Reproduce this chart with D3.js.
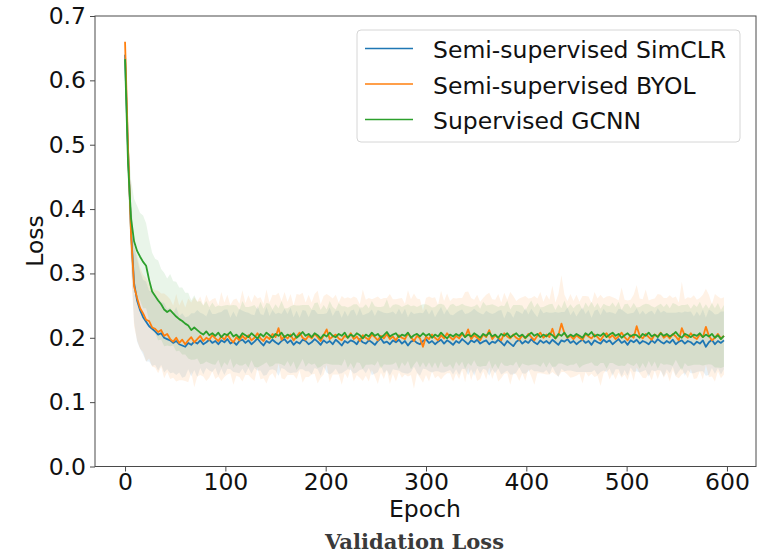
<!DOCTYPE html>
<html><head><meta charset="utf-8">
<script src="https://cdn.jsdelivr.net/npm/d3@7"></script>
<style>body{margin:0;background:#fff}svg{display:block}</style>
</head><body>
<svg id="chart" width="759" height="554"></svg>
<script>
// Epochs sampled every 3 epochs (0 .. 597)
const epochs = d3.range(0, 600, 3);

const simclr = [
.640,.490,.365,.285,.258,.243,.232,.225,.218,.214,
.210,.205,.207,.200,.198,.196,.192,.195,.190,.188,
.186,.192,.189,.194,.191,.196,.190,.193,.197,.192,
.195,.190,.196,.193,.198,.191,.194,.189,.195,.197,
.192,.196,.190,.194,.199,.193,.188,.195,.192,.197,
.193,.190,.195,.198,.192,.196,.189,.194,.191,.197,
.195,.190,.193,.198,.194,.189,.196,.192,.195,.190,
.197,.193,.188,.195,.192,.196,.194,.190,.198,.193,
.191,.196,.193,.189,.195,.199,.192,.194,.190,.196,
.193,.197,.191,.195,.188,.194,.196,.192,.190,.195,
.198,.192,.195,.190,.194,.197,.191,.196,.193,.189,
.195,.192,.198,.194,.190,.196,.193,.197,.191,.194,
.196,.190,.194,.192,.197,.193,.188,.195,.191,.187,
.194,.197,.191,.195,.192,.198,.193,.190,.196,.192,
.195,.191,.197,.193,.189,.196,.194,.198,.192,.195,
.190,.194,.197,.192,.195,.189,.196,.193,.191,.197,
.193,.196,.190,.194,.198,.192,.195,.189,.196,.193,
.197,.191,.195,.193,.190,.196,.192,.198,.194,.191,
.195,.192,.197,.190,.194,.196,.191,.195,.193,.189,
.194,.191,.196,.186,.193,.197,.190,.195,.192,.196];

const byol = [
.660,.495,.360,.280,.262,.246,.238,.228,.226,.216,
.214,.209,.212,.203,.206,.198,.194,.200,.192,.197,
.190,.196,.201,.193,.198,.203,.195,.200,.197,.204,
.199,.195,.202,.197,.205,.198,.193,.201,.196,.203,
.198,.204,.196,.200,.207,.199,.195,.202,.198,.206,
.201,.215,.197,.203,.199,.205,.196,.202,.208,.200,
.197,.203,.199,.206,.201,.195,.204,.213,.198,.202,
.205,.199,.196,.203,.200,.207,.198,.202,.195,.204,
.200,.197,.205,.201,.196,.203,.199,.206,.198,.202,
.196,.204,.200,.198,.207,.201,.195,.203,.199,.186,
.202,.198,.205,.200,.196,.204,.199,.207,.201,.197,
.203,.199,.206,.201,.213,.198,.204,.200,.196,.205,
.201,.212,.198,.204,.200,.196,.207,.202,.199,.205,
.200,.197,.204,.199,.206,.201,.196,.203,.208,.200,
.205,.201,.214,.199,.204,.222,.207,.200,.203,.198,
.204,.200,.197,.206,.202,.199,.205,.201,.196,.203,
.207,.200,.204,.198,.202,.208,.201,.196,.204,.200,
.218,.203,.199,.206,.201,.197,.205,.202,.208,.200,
.204,.199,.206,.202,.196,.215,.203,.200,.207,.201,
.198,.205,.201,.217,.203,.196,.200,.206,.199,.203];

const gcnn = [
.633,.470,.385,.350,.335,.326,.318,.312,.290,.272,
.265,.258,.252,.244,.240,.243,.238,.233,.229,.226,
.222,.219,.212,.216,.212,.208,.205,.210,.204,.207,
.203,.208,.201,.206,.204,.209,.202,.205,.200,.207,
.204,.201,.207,.203,.199,.206,.202,.208,.204,.200,
.206,.203,.208,.201,.205,.202,.207,.200,.204,.209,
.203,.206,.201,.207,.204,.199,.205,.202,.208,.203,
.201,.206,.203,.208,.200,.205,.202,.207,.204,.199,
.205,.202,.208,.203,.206,.200,.204,.209,.202,.205,
.207,.201,.205,.203,.208,.200,.204,.206,.202,.207,
.203,.206,.200,.205,.202,.208,.203,.199,.205,.202,
.206,.203,.208,.201,.205,.202,.207,.204,.200,.206,
.203,.208,.202,.205,.200,.206,.203,.207,.201,.204,
.207,.202,.205,.200,.204,.208,.203,.206,.201,.205,
.202,.207,.204,.199,.206,.203,.208,.201,.205,.202,
.206,.203,.200,.207,.204,.209,.202,.205,.203,.207,
.201,.205,.208,.203,.206,.200,.204,.207,.202,.205,
.204,.200,.206,.203,.208,.202,.205,.201,.207,.203,
.206,.202,.205,.209,.203,.200,.206,.204,.201,.205,
.203,.207,.201,.205,.202,.206,.200,.204,.198,.203];

// standard deviation bands
const simclrStd = [
.005,.030,.050,.060,.064,.060,.058,.062,.055,.058,
.052,.056,.049,.054,.047,.051,.046,.053,.044,.050,
.046,.041,.049,.044,.052,.043,.047,.040,.048,.045,
.042,.049,.044,.051,.046,.040,.047,.043,.050,.045,
.048,.043,.046,.041,.050,.044,.047,.053,.042,.046,
.044,.049,.042,.047,.045,.051,.043,.048,.040,.046,
.047,.042,.050,.045,.043,.048,.041,.046,.052,.044,
.045,.049,.043,.047,.041,.046,.050,.044,.048,.042,
.046,.043,.051,.045,.048,.042,.047,.044,.049,.045,
.043,.048,.045,.050,.044,.047,.041,.046,.049,.043,
.047,.044,.049,.042,.046,.051,.045,.048,.043,.046,
.044,.050,.046,.043,.048,.045,.052,.044,.047,.042,
.046,.049,.043,.047,.045,.050,.042,.046,.048,.044,
.048,.043,.046,.051,.044,.047,.045,.042,.049,.046,
.045,.048,.042,.047,.050,.044,.046,.049,.043,.047,
.043,.047,.050,.045,.048,.042,.046,.051,.044,.048,
.046,.044,.049,.043,.047,.052,.045,.048,.042,.046,
.049,.045,.047,.043,.050,.046,.044,.048,.045,.051,
.044,.047,.042,.049,.046,.043,.050,.045,.048,.044,
.047,.043,.048,.045,.051,.044,.046,.042,.049,.045];

const byolStd = [
.005,.032,.052,.062,.066,.063,.060,.065,.058,.061,
.060,.064,.057,.066,.059,.062,.056,.068,.058,.063,
.057,.065,.054,.070,.058,.061,.055,.067,.059,.056,
.063,.055,.069,.058,.062,.053,.066,.060,.057,.071,
.056,.062,.059,.067,.054,.064,.058,.073,.057,.061,
.065,.055,.060,.068,.057,.063,.054,.066,.059,.070,
.058,.064,.056,.062,.072,.057,.061,.055,.067,.059,
.062,.056,.069,.058,.063,.054,.066,.060,.057,.071,
.059,.065,.055,.061,.068,.057,.063,.056,.070,.058,
.064,.057,.062,.055,.067,.059,.074,.058,.061,.056,
.060,.066,.057,.063,.055,.069,.058,.062,.056,.065,
.058,.063,.056,.070,.059,.064,.055,.067,.060,.057,
.066,.058,.062,.055,.068,.059,.063,.057,.072,.060,
.057,.064,.059,.066,.055,.061,.069,.058,.063,.056,
.062,.058,.067,.056,.064,.075,.060,.057,.065,.059,
.063,.056,.068,.059,.062,.055,.066,.060,.071,.058,
.057,.065,.059,.063,.056,.070,.058,.062,.055,.067,
.064,.058,.061,.069,.057,.063,.056,.066,.059,.062,
.058,.067,.056,.062,.059,.072,.057,.063,.055,.065,
.061,.057,.066,.059,.064,.056,.068,.058,.062,.060];

const gcnnStd = [
.005,.040,.060,.066,.070,.068,.072,.066,.063,.060,
.058,.062,.055,.057,.052,.056,.050,.054,.049,.052,
.048,.051,.046,.050,.044,.049,.045,.047,.043,.048,
.045,.042,.048,.044,.047,.041,.049,.045,.043,.050,
.044,.047,.042,.048,.045,.050,.043,.046,.049,.044,
.046,.043,.049,.045,.041,.047,.044,.050,.046,.042,
.048,.045,.043,.047,.051,.044,.046,.042,.049,.045,
.043,.048,.046,.041,.047,.044,.050,.045,.043,.048,
.047,.044,.049,.046,.042,.048,.045,.051,.044,.046,
.045,.050,.043,.047,.044,.049,.046,.042,.048,.045,
.049,.044,.047,.043,.050,.045,.048,.044,.046,.051,
.043,.047,.045,.049,.044,.046,.042,.048,.045,.050,
.047,.043,.050,.045,.048,.044,.046,.051,.043,.047,
.044,.049,.045,.042,.047,.050,.044,.048,.046,.043,
.048,.045,.049,.044,.046,.043,.050,.045,.047,.044,
.045,.050,.043,.048,.044,.047,.045,.049,.042,.046,
.049,.044,.047,.045,.050,.043,.048,.046,.044,.049,
.043,.048,.045,.050,.044,.047,.042,.049,.046,.045,
.047,.044,.049,.043,.046,.051,.045,.048,.044,.047,
.045,.049,.044,.047,.043,.048,.046,.050,.045,.048];

const seriesNames = ["Semi-supervised SimCLR", "Semi-supervised BYOL", "Supervised GCNN"];
const seriesColors = ["#1f77b4", "#ff7f0e", "#2ca02c"];
const xTicks = [0, 100, 200, 300, 400, 500, 600];
const yTicks = [0.0, 0.1, 0.2, 0.3, 0.4, 0.5, 0.6, 0.7];
const xLabel = "Epoch", yLabel = "Loss", caption = "Validation Loss";

const series = [
  {name: seriesNames[0], color: seriesColors[0], mean: simclr, std: simclrStd},
  {name: seriesNames[1], color: seriesColors[1], mean: byol, std: byolStd},
  {name: seriesNames[2], color: seriesColors[2], mean: gcnn, std: gcnnStd}
];

const svg = d3.select("#chart");
const P = {left: 95, right: 756, top: 16, bottom: 466.5};
const FONT = "'DejaVu Sans', sans-serif";
const FS = 23.5;
const frameColor = "#4a4a4a";

const x = d3.scaleLinear().domain([-29.95, 628.95]).range([P.left, P.right]);
const y = d3.scaleLinear().domain([0, 0.7]).range([P.bottom, P.top]);

svg.append("defs").append("clipPath").attr("id", "clip")
  .append("rect").attr("x", P.left).attr("y", P.top)
  .attr("width", P.right - P.left).attr("height", P.bottom - P.top);

const plot = svg.append("g").attr("clip-path", "url(#clip)");

// bands
series.forEach(s => {
  const area = d3.area()
    .x((d, i) => x(epochs[i]))
    .y0((d, i) => y(s.mean[i] - s.std[i]))
    .y1((d, i) => y(s.mean[i] + s.std[i]));
  plot.append("path").datum(s.mean).attr("d", area)
    .attr("fill", s.color).attr("fill-opacity", 0.1);
});

// lines
series.forEach(s => {
  const line = d3.line().x((d, i) => x(epochs[i])).y(d => y(d));
  plot.append("path").datum(s.mean).attr("d", line)
    .attr("fill", "none").attr("stroke", s.color)
    .attr("stroke-width", 1.8).attr("stroke-linejoin", "round");
});

// axes
const xAxis = svg.append("g").attr("transform", `translate(0,${P.bottom})`)
  .call(d3.axisBottom(x).tickValues(xTicks).tickFormat(d3.format("d")).tickSize(5).tickPadding(2));
const yAxis = svg.append("g").attr("transform", `translate(${P.left},0)`)
  .call(d3.axisLeft(y).tickValues(yTicks).tickFormat(d3.format(".1f")).tickSize(5).tickPadding(4));
[xAxis, yAxis].forEach(g => {
  g.select(".domain").remove();
  g.selectAll(".tick line").attr("stroke", frameColor);
  g.selectAll(".tick text").attr("font-family", FONT).attr("font-size", FS).attr("fill", "#111");
});

// frame
svg.append("rect").attr("x", P.left).attr("y", P.top)
  .attr("width", P.right - P.left).attr("height", P.bottom - P.top)
  .attr("fill", "none").attr("stroke", frameColor).attr("stroke-width", 1);

// axis labels
svg.append("text").attr("x", 425).attr("y", 517).attr("text-anchor", "middle")
  .attr("font-family", FONT).attr("font-size", FS).attr("fill", "#111").text(xLabel);
svg.append("text").attr("transform", "translate(43,241) rotate(-90)").attr("text-anchor", "middle")
  .attr("font-family", FONT).attr("font-size", FS).attr("fill", "#111").text(yLabel);

// caption
svg.append("text").attr("x", 414.5).attr("y", 548.5).attr("text-anchor", "middle")
  .attr("font-family", "'DejaVu Serif', serif").attr("font-weight", "bold")
  .attr("font-size", 21).attr("textLength", 179).attr("lengthAdjust", "spacingAndGlyphs")
  .attr("fill", "#3a3a3a").text(caption);

// legend
const lg = svg.append("g");
lg.append("rect").attr("x", 357).attr("y", 30).attr("width", 383).attr("height", 112)
  .attr("rx", 4).attr("fill", "#fff").attr("fill-opacity", 0.85)
  .attr("stroke", "#d6d6d6").attr("stroke-width", 1);
series.forEach((s, i) => {
  const cy = 48.5 + i * 35.5;
  lg.append("line").attr("x1", 365).attr("x2", 413).attr("y1", cy).attr("y2", cy)
    .attr("stroke", s.color).attr("stroke-width", 1.5);
  lg.append("text").attr("x", 433).attr("y", cy + 9.5)
    .attr("font-family", FONT).attr("font-size", FS).attr("fill", "#111").text(s.name);
});
</script>
</body></html>
